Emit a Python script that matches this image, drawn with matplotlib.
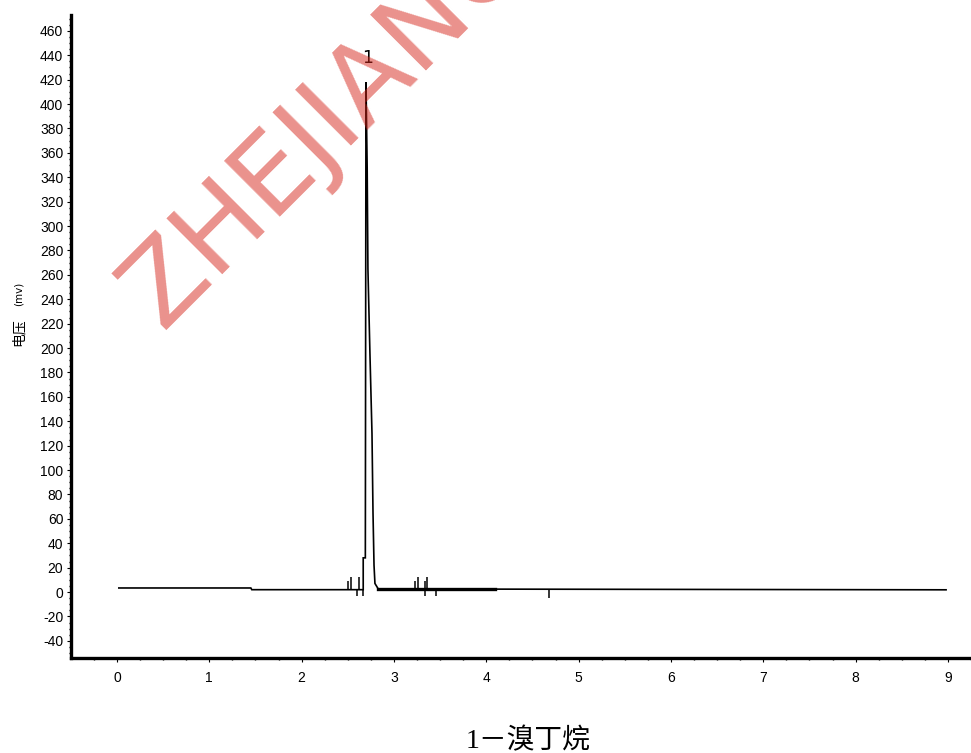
import matplotlib
matplotlib.use("Agg")
import matplotlib.pyplot as plt
from matplotlib.ticker import MultipleLocator

plt.rcParams["axes.unicode_minus"] = False

# ---- data ----
trace_time = [0.02, 1.45, 1.46, 2.667, 2.667, 2.69, 2.697, 2.71, 2.718, 2.74,
              2.762, 2.773, 2.784, 2.794, 2.83, 8.98]
trace_mv = [3.3, 3.3, 1.9, 1.9, 28, 28, 418, 347, 265, 195,
            130, 65, 22, 7, 2.5, 1.8]
baseline_start = 2.83
baseline_end = 4.09
baseline_level = 2.6
up_marks_t = [2.505, 2.534, 2.625, 3.228, 3.256, 3.336, 3.361]
up_marks_top = [9, 12.5, 12.5, 9, 12.5, 9, 12.5]
down_marks_t = [2.596, 2.668, 3.336, 3.455, 4.679]
down_marks_bottom = [-3.3, -3.3, -3.3, -3.3, -5]
peak_label = "1"
peak_t = 2.71
peak_top = 418
x_ticks = list(range(0, 10))
y_ticks = list(range(-40, 461, 20))
title = "1－溴丁烷"
watermark = "ZHEJIANG"

W, H = 971, 753
fig = plt.figure(figsize=(W / 100, H / 100), dpi=100)
ax = fig.add_axes([71 / W, (H - 658) / H, 900 / W, (658 - 15) / H])
ax.set_xlim(-0.498, 9.25)
ax.set_ylim(-54.1, 473)

ax.plot(trace_time, trace_mv, color="black", lw=1.2, solid_joinstyle="miter")
ax.plot([baseline_start, baseline_end], [baseline_level, baseline_level],
        color="black", lw=2.4)
ax.vlines(up_marks_t, 2, up_marks_top, color="black", lw=1.1)
ax.vlines(down_marks_t, down_marks_bottom, 2, color="black", lw=1.1)
ax.text(peak_t, peak_top + 12, peak_label, ha="center", va="bottom",
        fontsize=12.5, family="DejaVu Sans")

for s in ["top", "right"]:
    ax.spines[s].set_visible(False)
for s in ["left", "bottom"]:
    ax.spines[s].set_linewidth(2.4)

ax.set_xticks(x_ticks)
ax.set_yticks(y_ticks)
ax.xaxis.set_minor_locator(MultipleLocator(0.25))
ax.yaxis.set_minor_locator(MultipleLocator(5))
ax.tick_params(axis="both", which="major", direction="out", length=3,
               width=0.8, labelsize=10)
ax.tick_params(axis="x", which="major", labelsize=10, pad=6)
ax.tick_params(axis="y", which="major", pad=2.5)
ax.tick_params(axis="both", which="minor", direction="out", length=1.5,
               width=1)
for lbl in ax.get_xticklabels() + ax.get_yticklabels():
    lbl.set_family(["Liberation Sans", "DejaVu Sans"])

# y-axis label
fig.text(19 / W, 1 - 332 / H, "电压", rotation=90, ha="center", va="center",
         fontsize=10, family=["Noto Sans CJK SC", "DejaVu Sans"])
fig.text(19 / W, 1 - 294 / H, "(mv)", rotation=90, ha="center", va="center",
         fontsize=7.5, family=["DejaVu Sans"])

# bottom title
fig.text(528 / W, 1 - 741 / H, title, ha="center", va="center", fontsize=20,
         family=["Liberation Serif", "Noto Sans CJK SC"])

# watermark
fig.text(162 / W, 1 - 330 / H, watermark, rotation=45, rotation_mode="anchor",
         ha="left", va="baseline", fontsize=78, color=(0.835, 0.145, 0.1),
         alpha=0.5, family=["DejaVu Sans"], zorder=10)

fig.savefig("out.png", dpi=100)
